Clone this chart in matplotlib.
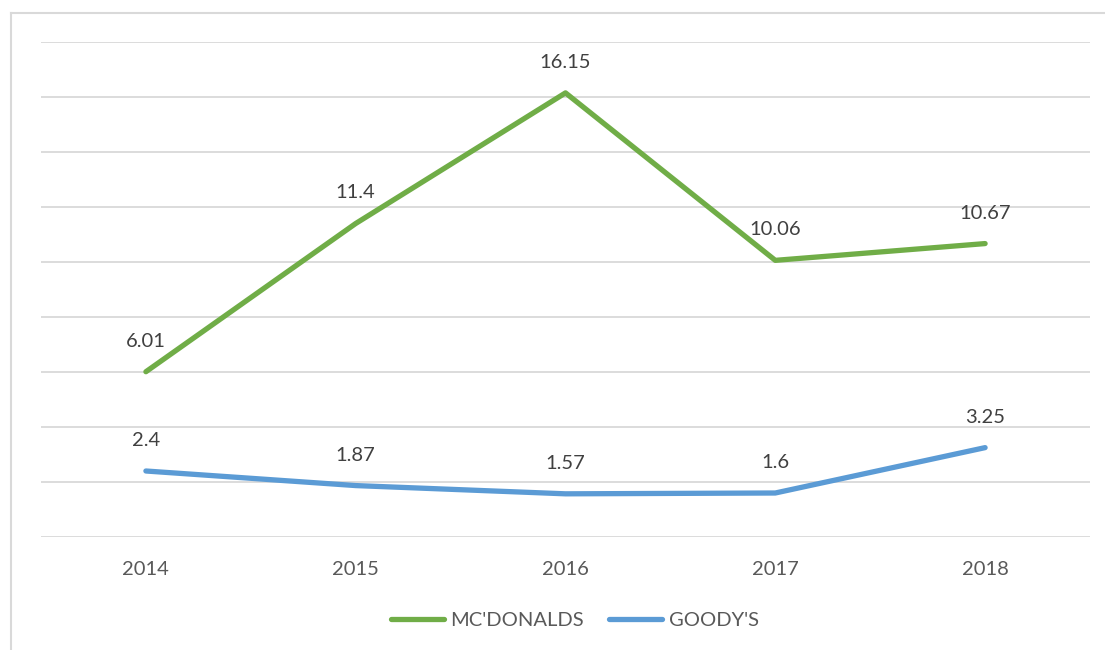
import matplotlib
matplotlib.use("Agg")
import matplotlib.pyplot as plt
from matplotlib.lines import Line2D

years = ["2014", "2015", "2016", "2017", "2018"]
mcdonalds = [6.01, 11.4, 16.15, 10.06, 10.67]
goodys = [2.4, 1.87, 1.57, 1.6, 3.25]
series_names = ["MC'DONALDS", "GOODY'S"]

GREEN = "#70AD47"
BLUE = "#5B9BD5"
plt.rcParams['font.family'] = ['Lato', 'DejaVu Sans']
FS = 14.5

fig = plt.figure(figsize=(11.05, 6.5), dpi=100)
ax = fig.add_axes([41/1105, 1-537/650, (1090-41)/1105, (537-42)/650])

x = list(range(len(years)))
ax.plot(x, mcdonalds, color=GREEN, lw=3.8, solid_capstyle='round', solid_joinstyle='round', zorder=3)
ax.plot(x, goodys, color=BLUE, lw=3.8, solid_capstyle='round', solid_joinstyle='round', zorder=3)

for xi, v in zip(x, mcdonalds):
    ax.annotate(f"{v:g}", (xi, v), xytext=(0, 22), textcoords='offset points',
                ha='center', va='center', fontsize=FS, color='#404040')
for xi, v in zip(x, goodys):
    ax.annotate(f"{v:g}", (xi, v), xytext=(0, 22), textcoords='offset points',
                ha='center', va='center', fontsize=FS, color='#404040')

ax.set_xlim(-0.5, len(years) - 0.5)
ax.set_ylim(0, 18)
ax.set_yticks(range(0, 19, 2))
ax.yaxis.grid(True, color='#D9D9D9', lw=1.3)
ax.set_axisbelow(True)
ax.tick_params(axis='y', left=False, labelleft=False)
ax.set_xticks(x)
ax.set_xticklabels(years, fontsize=FS, color='#595959')
ax.tick_params(axis='x', length=0, pad=17)
for s in ax.spines.values():
    s.set_visible(False)

handles = [Line2D([0], [0], color=GREEN, lw=3.8, solid_capstyle='round'),
           Line2D([0], [0], color=BLUE, lw=3.8, solid_capstyle='round')]
fig.legend(handles, series_names, loc='center', bbox_to_anchor=(575/1105, 1-620/650),
           ncol=2, frameon=False, fontsize=FS, labelcolor='#595959',
           handlelength=2.6, handletextpad=0.35, columnspacing=1.25)

# outer chart border (left and top edges visible)
fig.add_artist(Line2D([11/1105, 11/1105], [0, 1-13/650], transform=fig.transFigure, color='#D9D9D9', lw=1.5))
fig.add_artist(Line2D([11/1105, 1], [1-13/650, 1-13/650], transform=fig.transFigure, color='#D9D9D9', lw=1.5))

fig.savefig("out.png", dpi=100)
